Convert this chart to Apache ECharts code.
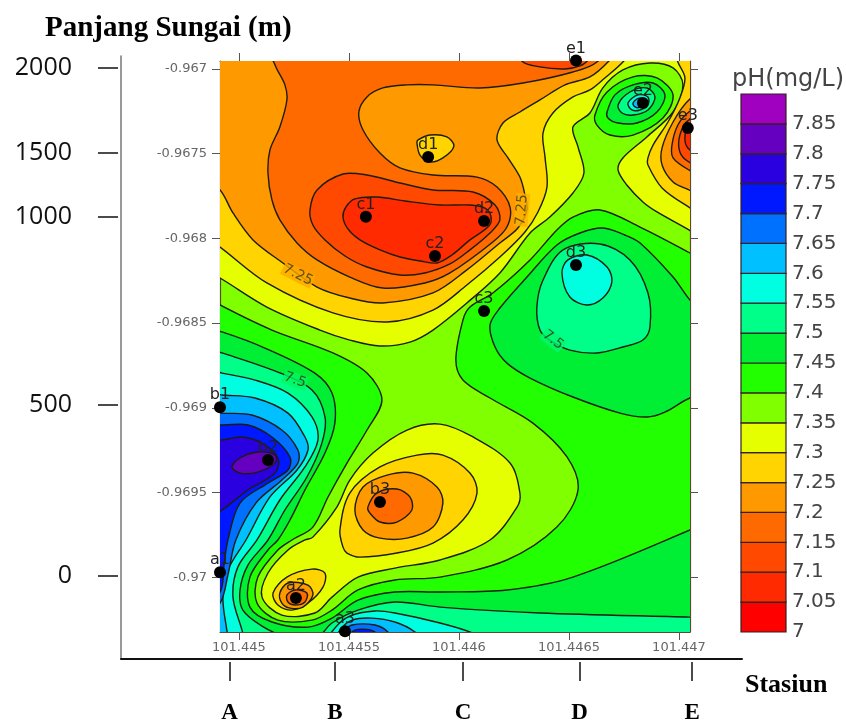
<!DOCTYPE html>
<html><head><meta charset="utf-8"><style>html,body{margin:0;background:#fff}#c{width:846px;height:722px}</style>
<script src="https://cdn.jsdelivr.net/npm/echarts@6/dist/echarts.min.js"></script></head><body><div id="c"></div>
<script>
// Contour vertices: pairs of micro-degree offsets from lon 101.445 (east +) and lat -0.967 (south +)
const upper735=[-200,1157,-86,1234,127,1405,368,1541,504,1600,641,1635,777,1612,882,1541,1036,1381,1186,1204,1323,968,1413,874,1518,732,1568,614,1541,460,1518,342,1595,260,1654,112,1745,6,1868,-35,1973,-6,2018,94,1973,254,1854,401,1745,525,1723,596,1763,685,1836,785,1900,844,2045,950,2186,1068,2186,-171,-200,-171];
const upperLeft73=[-200,950,-86,1051,127,1263,427,1440,673,1493,882,1423,1036,1275,1186,1110,1300,962,1359,844,1400,697,1391,519,1382,378,1427,260,1518,165,1595,124,1663,53,1745,-41,1823,-171,-200,-171];
const upperRight73=[1968,-171,1995,-41,2027,53,2004,171,1950,313,1882,449,1859,525,1859,567,1923,702,2045,815,2186,921,2186,-171];
const upperLeft725=[-200,596,-86,714,-27,850,64,1009,200,1145,355,1287,504,1352,654,1381,882,1322,1036,1186,1186,1027,1268,939,1309,832,1300,744,1277,638,1223,525,1173,419,1200,319,1277,254,1368,183,1482,94,1595,47,1677,-41,1754,-171,-200,-171];
const e3Ring725=[2186,65,2045,183,1973,313,1923,466,1923,567,1973,667,2045,714,2186,803];
const upper72=[132,-171,164,-24,209,94,218,183,186,342,141,478,132,614,150,773,186,891,264,1027,355,1127,504,1228,654,1293,845,1263,959,1204,1154,1021,1218,933,1232,815,1173,697,1082,638,882,626,732,584,641,496,564,360,545,254,582,165,654,112,764,94,882,94,1095,112,1291,83,1518,18,1627,-41,1686,-171];
const d1Cell=[809,437,823,508,868,549,927,525,977,455,945,401,868,390,814,419];
const e1Cap=[1254,-171,1286,-47,1368,-12,1482,0,1550,-18,1586,-53,1618,-171];
const c1c2Ring715=[323,832,355,714,473,620,582,626,732,673,882,714,1064,726,1164,803,1186,891,1141,968,1050,1068,959,1151,845,1204,732,1216,582,1169,482,1104,391,1009,336,921];
const c1c2Core71=[473,874,486,815,527,767,627,756,754,779,914,803,1050,803,1118,821,1145,868,1136,927,1050,1009,968,1098,900,1145,823,1133,732,1110,641,1068,550,1009,495,944];
const e3Ring72=[2186,153,2045,254,1995,331,1968,449,1973,525,2045,596,2186,685];
const e3Ring715=[2186,242,2045,301,2004,390,2004,490,2045,549,2186,626];
const e3Core71=[2186,272,2045,342,2027,419,2050,478,2186,567];
const lower74=[-200,1305,-86,1393,150,1541,427,1676,582,1795,650,1954,582,2131,491,2326,405,2526,336,2704,241,2780,177,2839,86,2999,82,3152,177,3253,332,3253,423,3194,541,3075,709,3016,914,2999,1218,2898,1445,2704,1541,2485,1491,2290,1336,2090,1141,1942,1018,1836,986,1718,1018,1482,1050,1405,1154,1322,1323,1127,1445,950,1518,874,1641,832,1823,933,2050,1086,2186,1186,2186,3489,-200,3489];
const b3Ring735=[300,2780,223,2839,132,2975,105,3117,195,3223,345,3211,423,3117,541,2999,709,2946,914,2898,1141,2780,1264,2586,1277,2503,1232,2326,1064,2172,914,2096,764,2131,609,2267,504,2426,445,2586,336,2763];
const b3Ring73=[473,2822,459,2721,504,2503,641,2349,809,2279,927,2279,1050,2385,1082,2503,1018,2662,882,2798,718,2857,550,2881,491,2857];
const b3Ring725=[527,2603,564,2467,673,2397,791,2385,900,2467,927,2562,882,2704,764,2769,641,2769,564,2721];
const b3Core72=[586,2586,627,2503,718,2479,777,2526,786,2603,718,2674,641,2674,595,2621];
const a2Ring73=[155,3093,218,2999,332,2952,391,2975,382,3058,314,3152,241,3194,177,3164];
const a2Ring725=[186,3093,223,3034,314,3046,336,3105,291,3176,232,3182,195,3152];
const a2Core72=[218,3105,255,3075,309,3093,300,3146,255,3164,223,3146];
const lower745=[-200,1511,-77,1552,118,1647,345,1795,423,1913,436,2090,391,2267,300,2485,232,2662,177,2780,132,2839,50,2999,50,3176,150,3264,314,3294,423,3241,541,3135,709,3087,914,3087,1218,3075,1518,2999,2050,2721,2186,2633,2186,3489,-200,3489];
const d3Ring745=[1164,1641,1141,1511,1186,1411,1309,1228,1445,1039,1550,968,1654,939,1754,980,1823,1027,1973,1228,2050,1364,2186,1541,2186,1895,2050,1942,1936,2025,1854,2054,1732,2031,1518,1936,1323,1824,1218,1736];
const e2Ring74=[1618,272,1673,136,1791,47,1900,53,1973,153,1927,289,1791,390,1686,390,1627,331];
const e2Ring745=[1673,254,1709,153,1791,94,1882,83,1936,153,1900,254,1809,319,1723,319,1677,289];
const e2Ring75=[1723,212,1777,136,1854,112,1891,165,1859,242,1791,272,1741,260];
const e2Ring755=[1768,201,1813,153,1859,165,1859,212,1823,242,1786,242];
const e2Core76=[1791,201,1823,171,1845,183,1823,224,1800,224];
const lower75=[-200,1629,-77,1676,177,1789,332,1895,391,2054,377,2208,309,2408,209,2603,132,2780,41,2928,5,3075,18,3194,105,3288,209,3347,359,3347,423,3270,541,3194,709,3146,914,3176,1368,3211,2050,3235,2186,3241,2186,3489,-200,3489];
const d3Ring75=[1354,1405,1382,1246,1473,1068,1641,1033,1777,1127,1859,1322,1868,1523,1836,1600,1745,1641,1627,1676,1504,1659,1413,1600,1368,1541];
const d3Core755=[1468,1204,1495,1127,1582,1098,1673,1169,1695,1257,1654,1352,1582,1393,1504,1346];
const left755=[-200,1765,-77,1795,73,1836,223,1913,332,2054,359,2190,300,2349,186,2544,82,2780,-5,2940,-27,3117,14,3312,50,3489,-200,3489];
const left76=[-200,1907,-77,1924,73,1942,223,2031,300,2172,314,2249,264,2367,141,2526,32,2780,-50,2957,-73,3117,-55,3312,-32,3489,-200,3489];
const left765=[-200,2013,-77,2031,59,2042,195,2131,268,2249,268,2326,195,2426,77,2562,-14,2780,-50,2987,-86,3152,-200,3282];
const left77=[-200,2090,-77,2101,41,2101,150,2172,232,2290,223,2367,132,2444,5,2562,-50,2780,-68,2928,-86,3087,-200,3194];
const left775=[-200,2190,-77,2190,14,2172,105,2208,177,2296,164,2385,41,2485,-77,2603,-200,2692];
const b2Core78=[-32,2349,5,2296,86,2261,164,2279,164,2326,86,2379,5,2385];
const a3Ring755=[395,3400,436,3300,504,3229,618,3199,709,3211,914,3270,1073,3335,1141,3400];
const a3Ring76=[436,3400,459,3312,514,3253,604,3241,709,3264,800,3323,845,3400];
const a3Ring765=[459,3400,482,3318,514,3282,618,3282,677,3323,709,3400];
const a3Core77=[495,3400,514,3323,559,3306,618,3323,641,3400];

// Painted in this order; each entry: lower bound of the pH band it fills, vertices
const contourStack=[
 [7.3,upper735],[7.25,upperLeft73],[7.25,upperRight73],[7.2,upperLeft725],[7.2,e3Ring725],[7.15,upper72],[7.25,d1Cell],[7.1,e1Cap],[7.1,c1c2Ring715],[7.05,c1c2Core71],[7.15,e3Ring72],[7.1,e3Ring715],[7.05,e3Core71],
 [7.4,lower74],[7.3,b3Ring735],[7.25,b3Ring73],[7.2,b3Ring725],[7.15,b3Core72],[7.25,a2Ring73],[7.2,a2Ring725],[7.15,a2Core72],
 [7.45,lower745],[7.45,d3Ring745],[7.4,e2Ring74],[7.45,e2Ring745],[7.5,e2Ring75],[7.55,e2Ring755],[7.6,e2Core76],
 [7.5,lower75],[7.5,d3Ring75],[7.55,d3Core755],[7.55,left755],[7.6,left76],[7.65,left765],[7.7,left77],[7.75,left775],[7.8,b2Core78],
 [7.55,a3Ring755],[7.6,a3Ring76],[7.65,a3Ring765],[7.7,a3Core77]
];
const bandLows=[7,7.05,7.1,7.15,7.2,7.25,7.3,7.35,7.4,7.45,7.5,7.55,7.6,7.65,7.7,7.75,7.8,7.85];
const bandColors=['#ff0000','#ff2a00','#ff4800','#ff6a00','#ff9900','#ffd400','#e6ff00','#80ff00','#22ff00','#00ee33','#00ff88','#00ffe0','#00c0ff','#0070ff','#0018ff','#2a00e0','#6600c0','#a000c0'];
const legendTicks=[7,7.05,7.1,7.15,7.2,7.25,7.3,7.35,7.4,7.45,7.5,7.55,7.6,7.65,7.7,7.75,7.8,7.85];
const lonTicks=[101.445,101.4455,101.446,101.4465,101.447];
const latTicks=[-0.967,-0.9675,-0.968,-0.9685,-0.969,-0.9695,-0.97];
const stationNames=['A','B','C','D','E'];
const stationLons=[101.444957,101.445436,101.446018,101.446548,101.447059];
const lengthLabels=[2000,1500,1000,500,0];
const lengthLats=[-0.966994,-0.967496,-0.967874,-0.968983,-0.969993];
const sampleNames=['e1','e2','e3','d1','c1','d2','c2','d3','c3','b1','b2','b3','a1','a2','a3'];
const sampleLons=[101.446532,101.446836,101.44704,101.44586,101.445577,101.446114,101.445891,101.446532,101.446114,101.444914,101.445132,101.445641,101.444914,101.445259,101.445482];
const sampleLats=[-0.96695,-0.967201,-0.967348,-0.967519,-0.967872,-0.967897,-0.968104,-0.968157,-0.968428,-0.968996,-0.969308,-0.969556,-0.96997,-0.970123,-0.970318];
const lineLabels=['7.25','7.25','7.5','7.5'];
const lineLabelLons=[101.445268,101.446286,101.445255,101.446427];
const lineLabelLats=[-0.968216,-0.967832,-0.968836,-0.9686];

const lonOf=d=>101.445+d*1e-6, latOf=d=>-0.967-d*1e-6;
const contourLon=[101.444914,101.44705], contourLat=[-0.970323,-0.966953];
const outerLon=[101.444464,101.447286], outerLat=[-0.970483,-0.966923];
const bandColor=v=>bandColors[bandLows.indexOf(v)];
const SANS='"DejaVu Sans",sans-serif', SERIF='"Liberation Serif",serif';

function mainAxis(extra,vals,rng,fmt,margin){return Object.assign({type:'value',gridIndex:0,min:rng[0],max:rng[1],splitLine:{show:false},
 axisLine:{show:true,onZero:false,lineStyle:{color:'#5a4a30',width:1.2}},
 axisTick:{show:true,length:8,customValues:vals,lineStyle:{color:'#555'}},
 axisLabel:{show:!!fmt,customValues:vals,formatter:fmt||undefined,color:'#666',fontFamily:SANS,fontSize:13,margin:margin||0,hideOverlap:false}},extra);}
const outerBase=(rng)=>({type:'value',gridIndex:1,min:rng[0],max:rng[1],splitLine:{show:false}});

const option={animation:false,backgroundColor:'#fff',
 title:[
  {text:'Panjang Sungai (m)',left:40,top:9,textStyle:{fontFamily:SERIF,fontWeight:'bold',fontSize:29,color:'#000'}},
  {text:'Stasiun',left:740,top:667,textStyle:{fontFamily:SERIF,fontWeight:'bold',fontSize:26,color:'#000'}},
  {text:'pH(mg/L)',left:727,top:63,textStyle:{fontFamily:SANS,fontWeight:'normal',fontSize:24,color:'#444'}}
 ],
 grid:[
  {left:220,width:470,top:61,height:571,show:true,backgroundColor:'#80ff00',borderWidth:0,outerBoundsMode:'none'},
  {left:121,width:621,top:56,height:603,show:false,outerBoundsMode:'none'},
  {left:741,width:45,top:94,height:538,show:false,outerBoundsMode:'none'}
 ],
 xAxis:[
  mainAxis({position:'bottom'},lonTicks,contourLon,v=>String(v),9),
  mainAxis({position:'top'},lonTicks,contourLon,null),
  Object.assign(outerBase(outerLon),{position:'bottom',axisLine:{show:true,onZero:false,lineStyle:{color:'#111',width:2}},axisTick:{show:false},axisLabel:{show:false}}),
  Object.assign(outerBase(outerLon),{position:'bottom',offset:3,axisLine:{show:false},
    axisTick:{show:true,length:19,customValues:stationLons,lineStyle:{color:'#111',width:1.5}},
    axisLabel:{show:true,customValues:stationLons,margin:40,hideOverlap:false,fontFamily:SERIF,fontWeight:'bold',fontSize:23,color:'#000',formatter:v=>stationNames[stationLons.indexOf(v)]}}),
  {type:'value',gridIndex:2,min:0,max:1,show:false}
 ],
 yAxis:[
  mainAxis({position:'left'},latTicks,contourLat,v=>String(v),13),
  mainAxis({position:'right'},latTicks,contourLat,null),
  Object.assign(outerBase(outerLat),{position:'left',axisLine:{show:true,onZero:false,lineStyle:{color:'#777',width:1.5}},axisTick:{show:false},axisLabel:{show:false}}),
  Object.assign(outerBase(outerLat),{position:'left',offset:3,axisLine:{show:false},
    axisTick:{show:true,length:20,customValues:lengthLats,lineStyle:{color:'#111',width:1.5}},
    axisLabel:{show:true,customValues:lengthLats,margin:46,hideOverlap:false,fontFamily:'"Open Sans",sans-serif',fontSize:25,color:'#111',formatter:v=>String(lengthLabels[lengthLats.indexOf(v)])}}),
  {type:'value',gridIndex:2,min:7,max:7.9,position:'right',axisLine:{show:false},splitLine:{show:false},
    axisTick:{show:false,customValues:legendTicks},
    axisLabel:{show:true,customValues:legendTicks,margin:6,hideOverlap:false,fontFamily:SANS,fontSize:20,color:'#444',formatter:v=>String(v)}}
 ],
 series:[
  {type:'custom',xAxisIndex:0,yAxisIndex:0,clip:true,z:2,coordinateSystem:'cartesian2d',
   data:contourStack.map((c,i)=>[i,0]),silent:true,
   renderItem:function(params,api){
     const c=contourStack[api.value(0)], pts=[];
     for(let k=0;k<c[1].length;k+=2) pts.push(api.coord([lonOf(c[1][k]),latOf(c[1][k+1])]));
     return {type:'polygon',shape:{points:pts,smooth:0.33},style:{fill:bandColor(c[0]),stroke:'#1c1c10',lineWidth:1.4}};
   }},
  {type:'scatter',xAxisIndex:0,yAxisIndex:0,z:5,clip:false,symbolSize:1,silent:true,itemStyle:{color:'rgba(0,0,0,0)'},
   label:{show:true,position:'inside',fontFamily:SANS,fontSize:14,color:'#3a3a10',padding:[0,1],
     formatter:p=>lineLabels[p.dataIndex]}},
  {type:'scatter',xAxisIndex:0,yAxisIndex:0,z:6,clip:false,symbolSize:12,silent:true,itemStyle:{color:'#000',opacity:1},
   data:sampleNames.map((n,i)=>[sampleLons[i],sampleLats[i]]),
   label:{show:true,position:'top',distance:-2,fontFamily:SANS,fontSize:16,color:'#222',formatter:p=>sampleNames[p.dataIndex]}},
  {type:'custom',xAxisIndex:4,yAxisIndex:4,z:2,silent:true,coordinateSystem:'cartesian2d',
   data:bandLows.map(v=>[0.5,v]),
   renderItem:function(params,api){
     const low=api.value(1), a=api.coord([0,low+0.05]), b=api.coord([1,low]);
     return {type:'rect',shape:{x:a[0],y:a[1],width:b[0]-a[0],height:b[1]-a[1]},style:{fill:bandColor(low),stroke:'#332222',lineWidth:1.2}};
   }}
 ]
};
// contour-line label styling per label (rotation, gap colour)
const labelRot=[-27,85,-20,-38], labelBg=['#ffa800','#ffb000','#00f860','#00f870'];
option.series[1].data=lineLabels.map((t,i)=>({value:[lineLabelLons[i],lineLabelLats[i]],label:{rotate:labelRot[i],backgroundColor:labelBg[i]}}));
const chart=echarts.init(document.getElementById('c'),null,{renderer:'canvas'});
chart.setOption(option);
</script></body></html>
